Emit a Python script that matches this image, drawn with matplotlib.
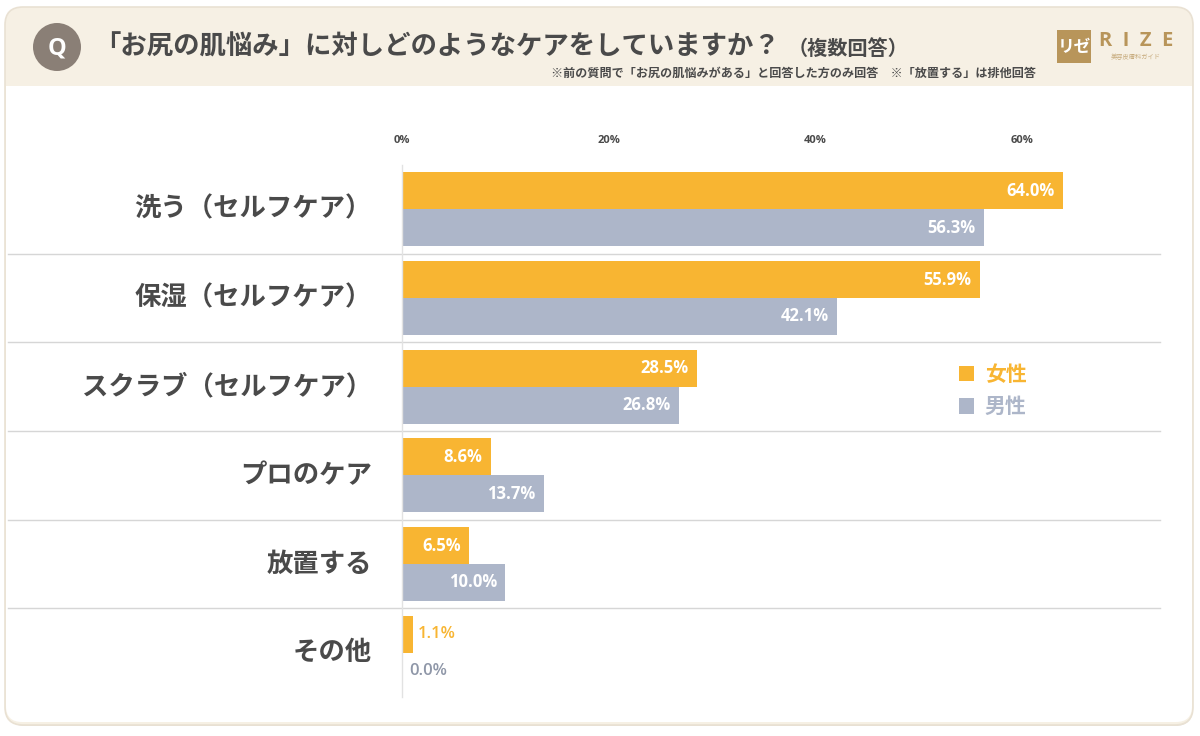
import matplotlib
matplotlib.use("Agg")
import matplotlib.pyplot as plt
import matplotlib.transforms as mtransforms
from matplotlib.patches import FancyBboxPatch, Circle, Rectangle, Patch

plt.rcParams["font.family"] = ["Noto Sans CJK JP", "DejaVu Sans"]

# --- data ---
categories = ["洗う（セルフケア）", "保湿（セルフケア）", "スクラブ（セルフケア）",
              "プロのケア", "放置する", "その他"]
female = [64.0, 55.9, 28.5, 8.6, 6.5, 1.1]
male = [56.3, 42.1, 26.8, 13.7, 10.0, 0.0]
series_names = ["女性", "男性"]
xticks = [0, 20, 40, 60]

ORANGE = "#f8b532"
GREY = "#adb6c9"
TEXT = "#4a4a4a"
W, H = 1200, 736

fig = plt.figure(figsize=(12, 7.36), dpi=100)
fig.patch.set_facecolor("white")

# background card
bg = fig.add_axes([0, 0, 1, 1], zorder=0)
bg.set_xlim(0, W)
bg.set_ylim(H, 0)
bg.axis("off")
bg.add_patch(FancyBboxPatch((7, 10), W - 14, H - 20,
                            boxstyle="round,pad=0,rounding_size=18",
                            facecolor="#e4ddd6", edgecolor="none"))
bg.add_patch(FancyBboxPatch((5, 7), W - 12, H - 18,
                            boxstyle="round,pad=0,rounding_size=18",
                            facecolor="#f6f0e4", edgecolor="#e9e1d3", linewidth=1.2))
bg.add_patch(FancyBboxPatch((6, 86), W - 14, H - 100,
                            boxstyle="round,pad=0,rounding_size=16",
                            facecolor="white", edgecolor="none"))
bg.add_patch(Rectangle((6, 86), W - 14, 30, facecolor="white", edgecolor="none"))

# Q badge and title
bg.add_patch(Circle((57, 47), 24, facecolor="#8a7f76", edgecolor="none"))
bg.text(57, 48, "Q", ha="center", va="center", fontsize=17, color="white",
        family=["Open Sans", "DejaVu Sans"], fontweight="bold")
bg.text(94, 47, "「お尻の肌悩み」に対しどのようなケアをしていますか？",
        ha="left", va="center", fontsize=19, color=TEXT, fontweight="bold")
bg.text(788, 48, "（複数回答）", ha="left", va="center", fontsize=14.5,
        color=TEXT, fontweight="bold")
bg.text(1036, 73, "※前の質問で「お尻の肌悩みがある」と回答した方のみ回答　※「放置する」は排他回答",
        ha="right", va="center", fontsize=8.7, color=TEXT, fontweight="bold")

# logo
bg.add_patch(Rectangle((1057, 30), 34, 33, facecolor="#b8955a", edgecolor="none"))
bg.text(1074, 47, "リゼ", ha="center", va="center", fontsize=12, color="white",
        fontweight="bold")
bg.text(1136, 41, "R  I  Z  E", ha="center", va="center", fontsize=14.5, color="#b8955a",
        family=["Open Sans", "DejaVu Sans"], fontweight="bold")
bg.text(1136, 57, "美容皮膚科ガイド", ha="center", va="center", fontsize=4.5,
        color="#c7ab7d")

# --- chart axes ---
x0, x1 = 402, 1160
y_top, y_bot = 165, 697
ax = fig.add_axes([x0 / W, 1 - y_bot / H, (x1 - x0) / W, (y_bot - y_top) / H], zorder=2)
ax.set_facecolor("none")
xmax = 60 * (x1 - x0) / (1022 - x0)
ax.set_xlim(0, xmax)
n = len(categories)
ax.set_ylim(n - 0.5, -0.5)

ys = list(range(n))
bh = 0.417
yf = [y - bh / 2 for y in ys]
ym = [y + bh / 2 for y in ys]
ax.barh(yf, female, height=bh, color=ORANGE, label=series_names[0])
ax.barh(ym, male, height=bh, color=GREY, label=series_names[1])

NUM = ["Open Sans", "DejaVu Sans"]
for y, v in zip(yf, female):
    if v > 5:
        ax.annotate(f"{v:.1f}%", (v, y), xytext=(-6, 0), textcoords="offset points",
                    ha="right", va="center", fontsize=12, color="white",
                    fontweight="bold", family=NUM)
    else:
        ax.annotate(f"{v:.1f}%", (v, y), xytext=(3, 0), textcoords="offset points",
                    ha="left", va="center", fontsize=12, color=ORANGE,
                    fontweight="semibold", family=NUM)
for y, v in zip(ym, male):
    if v > 5:
        ax.annotate(f"{v:.1f}%", (v, y), xytext=(-6, 0), textcoords="offset points",
                    ha="right", va="center", fontsize=12, color="white",
                    fontweight="bold", family=NUM)
    else:
        ax.annotate(f"{v:.1f}%", (v, y), xytext=(5, 0), textcoords="offset points",
                    ha="left", va="center", fontsize=12, color="#8f97a8",
                    fontweight="semibold", family=NUM)

# row separators
tr = mtransforms.blended_transform_factory(fig.transFigure, ax.transData)
for i in range(n - 1):
    ax.plot([8 / W, x1 / W], [i + 0.5, i + 0.5], transform=tr, color="#d6d6d6",
            linewidth=1.0, clip_on=False, zorder=1)

# category labels
for y, c in zip(ys, categories):
    ax.text(372 / W, y, c, transform=tr, ha="right", va="center",
            fontsize=19, color=TEXT, fontweight="bold")

# axes styling
ax.xaxis.tick_top()
ax.set_xticks(xticks)
ax.set_xticklabels([f"{t}%" for t in xticks], fontsize=8, color=TEXT,
                   fontweight="bold", family=NUM)
ax.tick_params(axis="x", length=0, pad=14)
ax.set_yticks([])
for s in ["top", "right", "bottom"]:
    ax.spines[s].set_visible(False)
ax.spines["left"].set_color("#e2e2e2")
ax.spines["left"].set_linewidth(1.0)

# legend
handles = [Patch(facecolor=ORANGE), Patch(facecolor=GREY)]
leg = ax.legend(handles, series_names, loc="upper left",
                bbox_to_anchor=(940 / W, 1 - 345 / H), bbox_transform=fig.transFigure,
                frameon=False, handlelength=0.75, handleheight=0.75,
                handletextpad=0.5, labelspacing=0.55,
                prop={"weight": "bold", "size": 15})
for t, col in zip(leg.get_texts(), [ORANGE, GREY]):
    t.set_color(col)

fig.savefig("out.png", dpi=100, facecolor="white")
